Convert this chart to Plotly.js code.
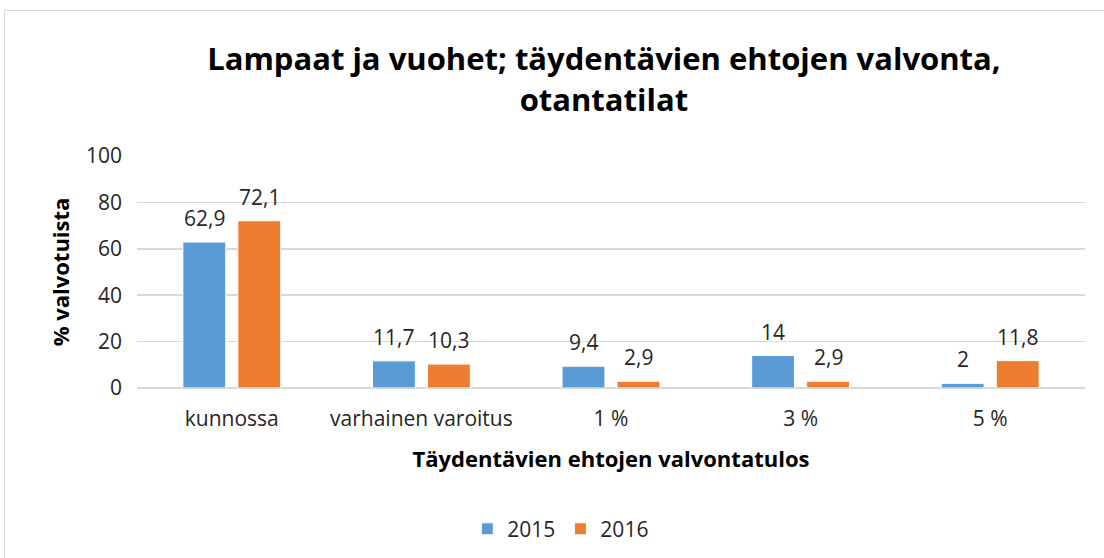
<!DOCTYPE html>
<html>
<head>
<meta charset="utf-8">
<script src="https://cdn.plot.ly/plotly-3.0.1.min.js"></script>
<style>
  html, body { margin: 0; padding: 0; background: #fff; }
  #wrap { position: relative; width: 1104px; height: 558px; }
  #chart { width: 1104px; height: 558px; }
  #frame { position: absolute; left: 4px; top: 10px; width: 1110px; height: 560px;
           border: 1.5px solid #D9D9D9; pointer-events: none; box-sizing: border-box; }
</style>
</head>
<body>
<div id="wrap">
  <div id="chart"></div>
  <div id="frame"></div>
</div>
<script>
const categories = ["kunnossa", "varhainen varoitus", "1 %", "3 %", "5 %"];
const values2015 = [62.9, 11.7, 9.4, 14, 2];
const values2016 = [72.1, 10.3, 2.9, 2.9, 11.8];
const seriesNames = ["2015", "2016"];
const yTicks = [0, 20, 40, 60, 80, 100];

const FONT = "'Open Sans', 'Noto Sans', 'Liberation Sans', sans-serif";
const fmt = v => String(v).replace('.', ',');

const traces = [
  { type: 'bar', name: seriesNames[0], x: categories, y: values2015,
    marker: { color: '#5B9BD5', line: { color: '#FFFFFF', width: 1 } }, hoverinfo: 'skip' },
  { type: 'bar', name: seriesNames[1], x: categories, y: values2016,
    marker: { color: '#ED7D31', line: { color: '#FFFFFF', width: 1 } }, hoverinfo: 'skip' }
];

const annotations = [];
[values2015, values2016].forEach((vals, si) => {
  vals.forEach((v, i) => {
    annotations.push({
      x: categories[i], y: v, xref: 'x', yref: 'y',
      text: fmt(v), showarrow: false,
      xshift: si === 0 ? -27.5 : 27.5, yshift: 8,
      yanchor: 'bottom', xanchor: 'center',
      font: { family: FONT, size: 21, color: '#262626' }
    });
  });
});

const layout = {
  width: 1104, height: 558,
  paper_bgcolor: '#FFFFFF', plot_bgcolor: '#FFFFFF',
  margin: { l: 137, r: 19, t: 156, b: 170 },
  font: { family: FONT, color: '#262626' },
  title: {
    text: '<b>Lampaat ja vuohet; täydentävien ehtojen valvonta,<br>otantatilat</b>',
    font: { family: FONT, size: 31, color: '#000000' },
    x: 0.547, xref: 'container', xanchor: 'center',
    y: 0.874, yref: 'container', yanchor: 'top'
  },
  barmode: 'group', bargap: 0.42, bargroupgap: 0.22,
  xaxis: {
    type: 'category', showline: false, ticks: '', showgrid: false,
    tickfont: { family: FONT, size: 21, color: '#262626' },
    ticklabelstandoff: 16,
    title: { text: '<b>Täydentävien ehtojen valvontatulos</b>',
             font: { family: FONT, size: 22, color: '#000000' }, standoff: 20 }
  },
  yaxis: {
    range: [0, 100], tickvals: yTicks, ticktext: yTicks.map(String),
    showgrid: true, gridcolor: '#D9D9D9', gridwidth: 1.5,
    zeroline: true, zerolinecolor: '#D9D9D9', zerolinewidth: 1.5,
    showline: false, ticks: '',
    tickfont: { family: FONT, size: 21, color: '#262626' },
    ticklabelstandoff: 14,
    title: { text: '<b>% valvotuista</b>',
             font: { family: FONT, size: 22, color: '#000000' }, standoff: 10 }
  },
  showlegend: true,
  legend: {
    orientation: 'h', x: 0.508, xref: 'container', xanchor: 'center',
    y: 0.015, yref: 'container', yanchor: 'bottom',
    font: { family: FONT, size: 21, color: '#262626' },
    itemwidth: 30, traceorder: 'normal'
  },
  annotations: annotations
};

Plotly.newPlot('chart', traces, layout, { displayModeBar: false, staticPlot: true });
</script>
</body>
</html>
